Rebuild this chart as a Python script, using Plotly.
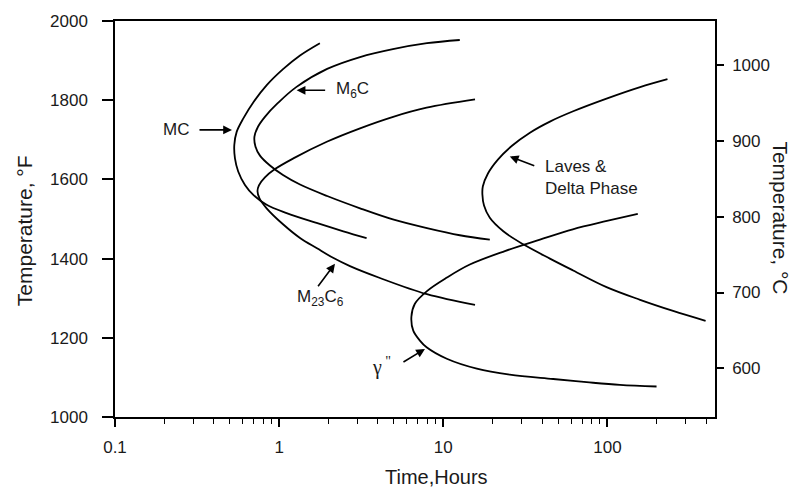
import math
import plotly.graph_objects as go

# ---- data (time in hours, temperature in °F) ----
mc_hours = [1.77, 1.34, 1.06, 0.84, 0.70, 0.605, 0.551, 0.533, 0.538, 0.563, 0.619, 0.696, 0.839, 1.11, 1.69, 2.46, 3.41]
mc_degF = [1944, 1913, 1879, 1838, 1796, 1754, 1720, 1687, 1653, 1620, 1586, 1561, 1536, 1515, 1490, 1469, 1452]

m6c_hours = [12.6, 7.95, 4.93, 3.11, 1.96, 1.27, 0.983, 0.819, 0.743, 0.707, 0.717, 0.764, 0.879, 1.055, 1.34, 1.96, 3.11, 4.93, 7.95, 12.6, 19.2]
m6c_degF = [1952, 1944, 1929, 1909, 1879, 1833, 1793, 1758, 1733, 1708, 1683, 1660, 1635, 1611, 1587, 1558, 1527, 1499, 1477, 1459, 1448]

m23c6_hours = [15.6, 7.91, 4.95, 3.11, 1.95, 1.22, 0.943, 0.819, 0.753, 0.738, 0.759, 0.839, 1.06, 1.34, 1.70, 2.13, 2.70, 4.11, 7.95, 15.6]
m23c6_degF = [1802, 1781, 1758, 1729, 1695, 1653, 1626, 1605, 1585, 1570, 1552, 1527, 1486, 1452, 1426, 1402, 1381, 1351, 1310, 1283]

laves_hours = [232, 158, 98.7, 61.8, 44.6, 33.7, 26.2, 21.5, 18.7, 17.4, 17.3, 17.7, 19.2, 23.2, 30.7, 44.6, 61.8, 98.7, 158, 251, 396]
laves_degF = [1853, 1833, 1804, 1772, 1746, 1718, 1685, 1650, 1615, 1582, 1562, 1534, 1503, 1469, 1436, 1400, 1370, 1328, 1296, 1268, 1243]

gamma_hours = [153, 99.2, 61.5, 38.8, 23.7, 14.5, 10.5, 7.95, 6.71, 6.39, 6.56, 7.20, 7.91, 10.5, 16.0, 25.4, 46.7, 74.6, 119, 199]
gamma_degF = [1513, 1495, 1474, 1448, 1419, 1385, 1352, 1318, 1286, 1253, 1218, 1193, 1176, 1147, 1122, 1107, 1096, 1088, 1081, 1077]

x_tickvals = [0.1, 1, 10, 100]
x_ticktext = ["0.1", "1", "10", "100"]
x_minor = [0.2, 0.3, 0.4, 0.5, 0.6, 0.7, 0.8, 0.9, 2, 3, 4, 5, 6, 7, 8, 9,
           20, 30, 40, 50, 60, 70, 80, 90, 200, 300, 400]
yF_ticks = [1000, 1200, 1400, 1600, 1800, 2000]
yC_ticks = [600, 700, 800, 900, 1000]

FONT = "Liberation Sans, Arial, Helvetica, sans-serif"
SERIF = "Liberation Serif, Times New Roman, serif"
TXT = "#1a1a1a"

# labels: (text, text_hours, text_degF, tip_hours, tip_degF, arrow_dx, arrow_dy, anchor, font, size)
labels = [
    ("MC", 0.235, 1725, 0.516, 1725, -34, 0, "center", FONT, 17),
    ("M<sub>6</sub>C", 2.157, 1825, 1.278, 1825, 30, 0, "left", FONT, 17),
    ("M<sub>23</sub>C<sub>6</sub>", 1.797, 1301, 2.187, 1387, -18, 24, "center", FONT, 17),
    ("γ<sup> \"</sup>", 4.23, 1127, 7.73, 1172, -23, 14, "center", SERIF, 20),
    ("Laves &amp;<br>Delta Phase", 40.6, 1605, 25.4, 1658, 26, 10, "left", FONT, 17),
]

fig = go.Figure()
for hrs, deg in [(mc_hours, mc_degF), (m6c_hours, m6c_degF), (m23c6_hours, m23c6_degF),
                 (laves_hours, laves_degF), (gamma_hours, gamma_degF)]:
    fig.add_trace(go.Scatter(x=hrs, y=deg, mode="lines",
                             line=dict(color="black", width=1.8, shape="spline", smoothing=1.0),
                             showlegend=False, hoverinfo="skip"))

# invisible trace to activate the °C axis
fig.add_trace(go.Scatter(x=[1], y=[800], yaxis="y2", mode="markers",
                         marker=dict(opacity=0), showlegend=False, hoverinfo="skip"))

annotations = []
for text, tx, ty, ax_, ay_, dx, dy, anchor, fam, size in labels:
    annotations.append(dict(x=math.log10(tx), y=ty, xref="x", yref="y", text=text,
                            showarrow=False, xanchor=anchor, yanchor="middle",
                            font=dict(size=size, color=TXT, family=fam), align="left"))
    annotations.append(dict(x=math.log10(ax_), y=ay_, xref="x", yref="y", text="",
                            showarrow=True, ax=dx, ay=dy, arrowhead=2, arrowsize=1.1,
                            arrowwidth=1.6, arrowcolor="black", standoff=0))

annotations += [
    dict(x=-0.1517, y=0.4716, xref="paper", yref="paper", text="Temperature, °F",
         textangle=-90, showarrow=False, xanchor="center", yanchor="middle",
         font=dict(size=21, color=TXT, family=FONT)),
    dict(x=1.11, y=0.504, xref="paper", yref="paper", text="Temperature, °C",
         textangle=90, showarrow=False, xanchor="center", yanchor="middle",
         font=dict(size=21, color=TXT, family=FONT)),
    dict(x=0.536, y=-0.1515, xref="paper", yref="paper", text="Time,Hours",
         showarrow=False, xanchor="center", yanchor="middle",
         font=dict(size=20, color=TXT, family=FONT)),
]

fig.update_layout(
    width=795, height=489, autosize=False,
    margin=dict(l=115, r=80, t=19, b=72),
    paper_bgcolor="white", plot_bgcolor="white",
    font=dict(family=FONT, color=TXT),
    xaxis=dict(type="log", range=[-1, 2.655], tickvals=x_tickvals, ticktext=x_ticktext,
               ticks="outside", ticklen=8, tickwidth=1.5, tickcolor="black",
               showline=True, linecolor="black", linewidth=1.5, mirror=True,
               showgrid=False, zeroline=False, ticklabelstandoff=6,
               tickfont=dict(size=17, color=TXT, family=FONT),
               minor=dict(tickvals=x_minor, ticks="outside", ticklen=5, tickwidth=1.2,
                          tickcolor="black", showgrid=False)),
    yaxis=dict(range=[1000, 2000], tickvals=yF_ticks, ticks="outside", ticklen=11,
               tickwidth=1.5, tickcolor="black", showline=True, linecolor="black",
               linewidth=1.5, mirror=True, showgrid=False, zeroline=False,
               ticklabelstandoff=11,
               tickfont=dict(size=17, color=TXT, family=FONT)),
    yaxis2=dict(overlaying="y", side="right", range=[535.6, 1058.6], tickvals=yC_ticks,
                ticks="outside", ticklen=7, tickwidth=1.5, tickcolor="black",
                showline=True, linecolor="black", linewidth=1.5, showgrid=False,
                zeroline=False, ticklabelstandoff=5,
                tickfont=dict(size=17, color=TXT, family=FONT)),
    annotations=annotations,
)

fig.write_html("out.html")
